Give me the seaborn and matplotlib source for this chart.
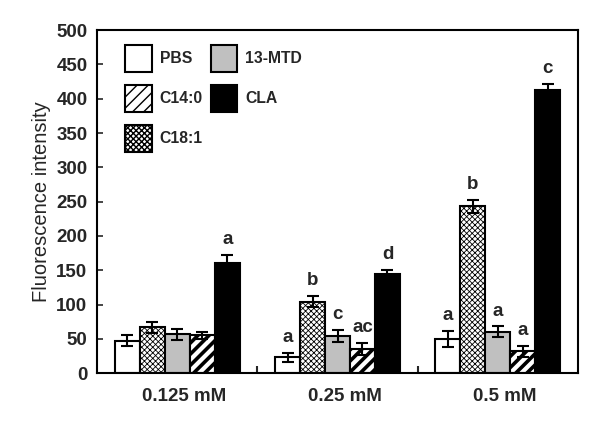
import pandas as pd
import seaborn as sns
import matplotlib.pyplot as plt
import matplotlib.transforms as mtransforms
from matplotlib.patches import Patch

doses = ["0.125 mM", "0.25 mM", "0.5 mM"]
treatments = ["PBS", "C18:1", "13-MTD", "C14:0", "CLA"]

pbs_mean = [47, 23, 50]
c181_mean = [67, 104, 243]
mtd_mean = [57, 54, 60]
c140_mean = [55, 35, 32]
cla_mean = [160, 145, 413]

pbs_err = [8, 7, 12]
c181_err = [8, 8, 9]
mtd_err = [8, 9, 8]
c140_err = [5, 9, 8]
cla_err = [12, 6, 9]

pbs_sig = ["", "a", "a"]
c181_sig = ["", "b", "b"]
mtd_sig = ["", "c", "a"]
c140_sig = ["", "ac", "a"]
cla_sig = ["a", "d", "c"]

means = [pbs_mean, c181_mean, mtd_mean, c140_mean, cla_mean]
errs = [pbs_err, c181_err, mtd_err, c140_err, cla_err]
sigs = [pbs_sig, c181_sig, mtd_sig, c140_sig, cla_sig]

rows = []
for t, m in zip(treatments, means):
    for d, v in zip(doses, m):
        rows.append({"dose": d, "treatment": t, "value": v})
df = pd.DataFrame(rows)

sns.set_style("ticks")
plt.rcParams["font.family"] = ["Liberation Sans", "DejaVu Sans"]

fills = {"PBS": "white", "C18:1": "white", "13-MTD": "#c0c0c0", "C14:0": "white", "CLA": "black"}
hatches = {"PBS": "", "C18:1": "xxxxxx", "13-MTD": "", "C14:0": "///", "CLA": ""}
hatch_lw = {"PBS": 1.0, "C18:1": 0.6, "13-MTD": 1.0, "C14:0": 2.6, "CLA": 1.0}


def style_patch(p, t):
    p.set_hatch(hatches[t])
    if hasattr(p, "set_hatch_linewidth"):
        p.set_hatch_linewidth(hatch_lw[t])


fig = plt.figure(figsize=(6, 4.24), dpi=100)
ax = fig.add_axes([0.162, 0.12, 0.801, 0.809])

sns.barplot(data=df, x="dose", y="value", hue="treatment", order=doses,
            hue_order=treatments, palette=fills, width=0.78, gap=0,
            errorbar=None, edgecolor="black", linewidth=1.5, legend=False, ax=ax)

for t, cont, e, s in zip(treatments, ax.containers, errs, sigs):
    xs, ys = [], []
    for bar in cont:
        style_patch(bar, t)
        xs.append(bar.get_x() + bar.get_width() / 2)
        ys.append(bar.get_height())
    ax.errorbar(xs, ys, yerr=e, fmt="none", ecolor="black", elinewidth=1.5,
                capsize=4, capthick=1.5, zorder=5)
    for x, y, err, lab in zip(xs, ys, e, s):
        if lab:
            ax.text(x, y + err + 10, lab, ha="center", va="bottom",
                    fontsize=13.5, fontweight="bold")

ax.set_ylim(0, 500)
ax.set_xlim(-0.5, 2.5)
ax.set_yticks(range(0, 501, 50))
ax.tick_params(axis="y", direction="in", length=4, width=1.2, labelsize=13.5, pad=7)
ax.tick_params(axis="x", length=0, labelsize=13.5, pad=11)
ax.set_xticks([0.5, 1.5], minor=True)
ax.tick_params(axis="x", which="minor", direction="in", length=5, width=1.5)
shift = mtransforms.ScaledTranslation(7 / 100, 0, fig.dpi_scale_trans)
for lab in ax.get_xticklabels():
    lab.set_fontweight("bold")
    lab.set_transform(lab.get_transform() + shift)
for lab in ax.get_yticklabels():
    lab.set_fontweight("bold")
for sp in ax.spines.values():
    sp.set_linewidth(1.5)
    sp.set_color("black")
ax.set_xlabel("")
ax.set_ylabel("Fluorescence intensity", fontsize=14.5, labelpad=4)

legend_order = ["PBS", "C14:0", "C18:1", "13-MTD", "CLA"]
handles = []
for t in legend_order:
    h = Patch(facecolor=fills[t], edgecolor="black", linewidth=1.5)
    style_patch(h, t)
    handles.append(h)
ax.legend(handles, legend_order, ncol=2, loc="upper left", frameon=False,
          prop={"weight": "bold", "size": 11.3}, handlelength=1.7,
          handleheight=2.3, labelspacing=0.8, columnspacing=0.5,
          handletextpad=0.5, borderaxespad=0, bbox_to_anchor=(0.045, 0.975))

fig.savefig("out.png", dpi=100)
